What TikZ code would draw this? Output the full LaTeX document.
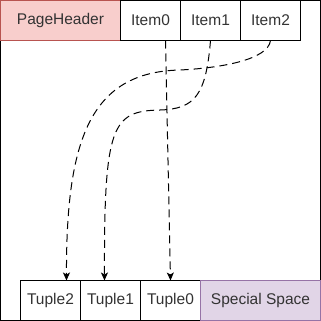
\documentclass[tikz,border=0pt]{standalone}
\usepackage{fontspec}
\setmainfont{Liberation Sans}
\usetikzlibrary{arrows.meta}
\usetikzlibrary{positioning}

\definecolor{headerfill}{RGB}{248,206,204}
\definecolor{headerline}{RGB}{184,84,80}
\definecolor{specialfill}{RGB}{225,213,231}
\definecolor{specialline}{RGB}{150,115,166}

\tikzset{
  cell/.style={draw, line width=1pt, minimum width=60pt, minimum height=40pt, inner sep=0pt,
    outer sep=0pt, font=\fontsize{15.5}{18}\selectfont, text=black!80},
  link/.style={line width=1pt, dash pattern=on 8pt off 5pt,
    -{Stealth[length=8pt,width=7pt,inset=2pt]}}
}

\begin{document}
\begin{tikzpicture}[x=1pt,y=-1pt]
\useasboundingbox (0,0) rectangle (321,321);

%Shape: page frame
\draw[line width=1pt] (0.5,0.5) rectangle (320.5,320.5);

%Shape: header row
\node[cell, fill=headerfill, draw=headerline, minimum width=120pt, anchor=north west] (header) at (0.5,0.5) {PageHeader};
\node[cell, right=0pt of header] (item0) {Item0};
\node[cell, right=0pt of item0] (item1) {Item1};
\node[cell, right=0pt of item1] (item2) {Item2};

%Shape: tuple row
\node[cell, anchor=south west] (tuple2) at (20.5,320.5) {Tuple2};
\node[cell, right=0pt of tuple2] (tuple1) {Tuple1};
\node[cell, right=0pt of tuple1] (tuple0) {Tuple0};
\node[cell, fill=specialfill, draw=specialline, minimum width=120pt, right=0pt of tuple0] (special) {Special Space};

%Curves: item pointers
\draw[link] ([xshift=15pt]item0.south) -- (tuple0.north);
\draw[link] (item1.south) .. controls (206,95) and (195,109) .. (160,110)
  .. controls (112,111) and (104,125) .. ([xshift=-6pt]tuple1.north);
\draw[link] (item2.south) .. controls (268,60) and (220,68) .. (180,70)
  .. controls (90,72) and (66,140) .. ([xshift=16pt]tuple2.north);

\end{tikzpicture}
\end{document}
